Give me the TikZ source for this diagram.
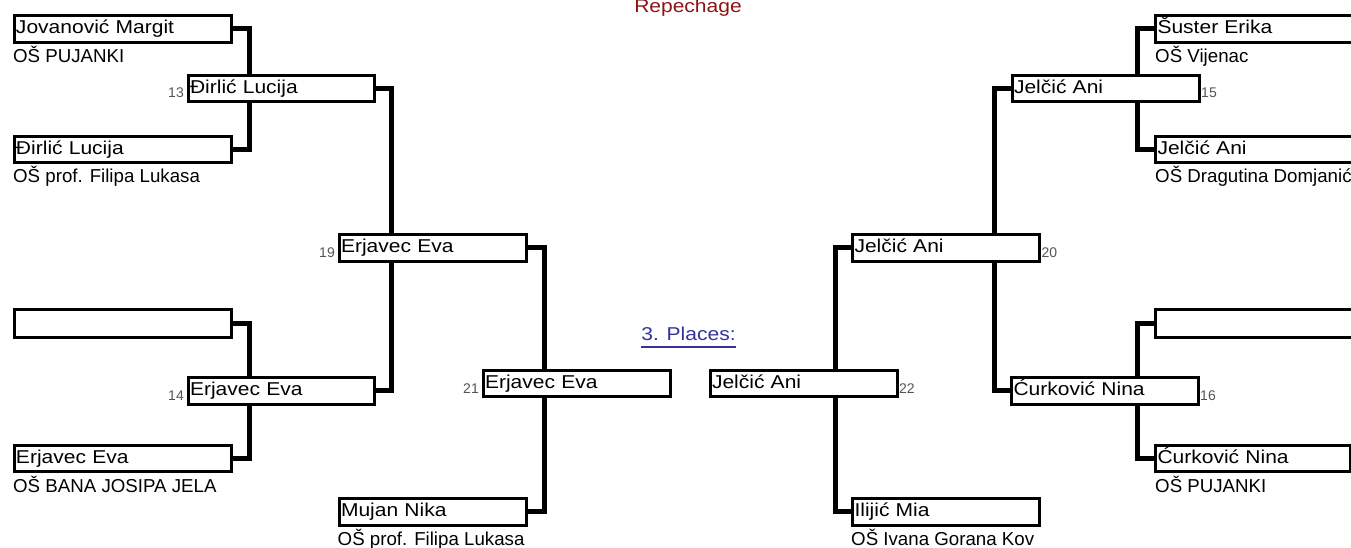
\documentclass[tikz,border=0pt]{standalone}
\usepackage{fontspec}
\setmainfont{Liberation Sans}
\newfontfamily\namefont{Liberation Sans}[FakeStretch=1.13]
\usetikzlibrary{backgrounds}
\definecolor{titlered}{RGB}{140,20,20}
\definecolor{linkblue}{RGB}{51,51,160}
\definecolor{numgray}{RGB}{85,85,85}
\tikzset{
  namebox/.style={draw, line width=3pt, fill=white, anchor=north west,
    inner xsep=2pt, inner ysep=0pt, text height=18.1pt, text depth=8.5pt,
    align=left, text width=#1, font=\namefont\fontsize{18.6}{20}\selectfont},
  emptybox/.style={namebox=#1, text height=19pt, text depth=9pt},
  conn/.style={line width=5pt},
  school/.style={anchor=base west, inner sep=0pt, font=\fontsize{18.7}{20}\selectfont},
  numl/.style={anchor=base east, inner sep=0pt, text=numgray, font=\fontsize{14}{16}\selectfont},
  numr/.style={anchor=base west, inner sep=0pt, text=numgray, font=\fontsize{14}{16}\selectfont},
  heading/.style={inner sep=0pt, font=\namefont\fontsize{18.6}{20}\selectfont},
}
\begin{document}
\begin{tikzpicture}[x=1pt, y=-1pt]
\useasboundingbox (0,0) rectangle (1351,547);
% boxes
\node[namebox=213pt] (a1) at (12.5,14) {Jovanović Margit};
\node[namebox=213pt] (a2) at (12.5,134.5) {Đirlić Lucija};
\node[emptybox=213pt] (a3) at (12.5,307.5) {};
\node[namebox=213pt] (a4) at (12.5,443.5) {Erjavec Eva};
\node[namebox=182pt] (b13) at (186.5,73.5) {Đirlić Lucija};
\node[namebox=182pt] (b14) at (186.5,376) {Erjavec Eva};
\node[namebox=183pt] (c19) at (337.5,233) {Erjavec Eva};
\node[namebox=183pt] (cm) at (337.5,497) {Mujan Nika};
\node[namebox=183pt] (d21) at (481.5,368.5) {Erjavec Eva};
\node[namebox=183pt] (h22) at (708.5,368.5) {Jelčić Ani};
\node[namebox=183pt] (g20) at (851,233) {Jelčić Ani};
\node[namebox=183pt] (gm) at (851,497) {Ilijić Mia};
\node[namebox=183pt] (f15) at (1010.5,73.5) {Jelčić Ani};
\node[namebox=183pt] (f16) at (1010,376) {Ćurković Nina};
\node[namebox=213pt] (e1) at (1154,14) {Šuster Erika};
\node[namebox=213pt] (e2) at (1154,134.5) {Jelčić Ani};
\node[emptybox=213pt] (e3) at (1154,307.5) {};
\node[namebox=190.5pt] (e4) at (1154,443.5) {Ćurković Nina};
% connectors
\begin{pgfonlayer}{background}
\fill[white] (0,0) rectangle (1351,547);
\draw[conn] (a1.east) -- ++(16.5,0) |- (a2.east);
\draw[conn] (b13.east) -- ++(15.5,0) |- (b14.east);
\draw[conn] (a3.east) -- ++(16.5,0) |- (a4.east);
\draw[conn] (c19.east) -- ++(16.5,0) |- (cm.east);
\draw[conn] (e1.west) -- ++(-17,0) |- (e2.west);
\draw[conn] (f15.west) -- ++(-16.5,0) |- (f16.west);
\draw[conn] (e3.west) -- ++(-17,0) |- (e4.west);
\draw[conn] (g20.west) -- ++(-16,0) |- (gm.west);
\end{pgfonlayer}
% match numbers
\node[numl] (n13) at (184,97) {13};
\node[numl] (n14) at (184,400.5) {14};
\node[numl] (n19) at (335,257) {19};
\node[numl] (n21) at (479,393) {21};
\node[numr] (n15) at (1201,97) {15};
\node[numr] (n16) at (1200,400.5) {16};
\node[numr] (n20) at (1041.5,257) {20};
\node[numr] (n22) at (899,393) {22};
% schools
\node[school] (s1) at (13,62) {OŠ PUJANKI};
\node[school] (s2) at (13,182.7) {OŠ prof. Filipa Lukasa};
\node[school] (s4) at (13,492.5) {OŠ BANA JOSIPA JELA};
\node[school] (sm) at (337.5,545.5) {OŠ prof. Filipa Lukasa};
\node[school] (se1) at (1155,62) {OŠ Vijenac};
\node[school] (se2) at (1155,182.7) {OŠ Dragutina Domjanić};
\node[school] (se4) at (1155,492.5) {OŠ PUJANKI};
\node[school] (sg) at (851,545.5) {OŠ Ivana Gorana Kov};
% headings
\node[heading, anchor=base, text=titlered] (title) at (688,12.3) {Repechage};
\node[heading, anchor=base west, text=linkblue] (places) at (641.2,340.7) {3. Places:};
\draw[linkblue, line width=1.6pt] ([yshift=-6pt]places.base west) -- ([yshift=-6pt]places.base east);
\end{tikzpicture}
\end{document}
